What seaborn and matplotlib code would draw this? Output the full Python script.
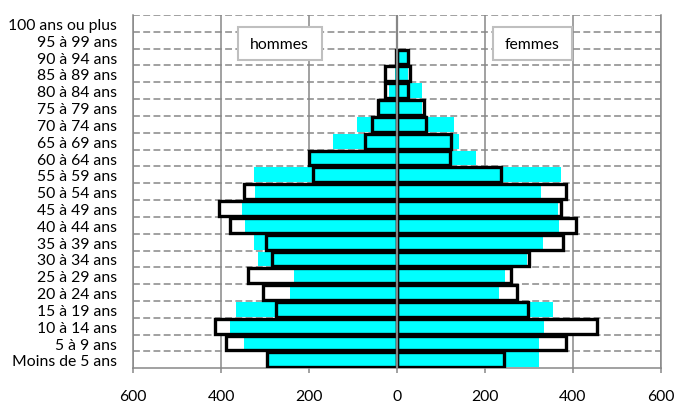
import numpy as np
import pandas as pd
import matplotlib
matplotlib.use("Agg")
import matplotlib.pyplot as plt
import seaborn as sns
from matplotlib.patches import Rectangle

# ---------------- data ----------------
ages = ["100 ans ou plus", "95 à 99 ans", "90 à 94 ans", "85 à 89 ans",
        "80 à 84 ans", "75 à 79 ans", "70 à 74 ans", "65 à 69 ans",
        "60 à 64 ans", "55 à 59 ans", "50 à 54 ans", "45 à 49 ans",
        "40 à 44 ans", "35 à 39 ans", "30 à 34 ans", "25 à 29 ans",
        "20 à 24 ans", "15 à 19 ans", "10 à 14 ans", "5 à 9 ans",
        "Moins de 5 ans"]

# outlined (white + black border) series
men_outline = [0, 0, 2, 28, 27, 43, 56, 72, 201, 192, 349, 404, 381, 298,
               284, 339, 305, 275, 413, 389, 296]
women_outline = [0, 0, 24, 30, 24, 61, 67, 123, 121, 237, 384, 373, 408,
                 377, 300, 259, 273, 298, 456, 384, 243]

# cyan filled series
men_fill = [0, 0, 1, 5, 19, 45, 90, 146, 195, 325, 322, 353, 345, 325,
            317, 235, 243, 366, 379, 349, 292]
women_fill = [0, 0, 22, 24, 57, 56, 129, 142, 180, 373, 328, 366, 369,
              332, 296, 246, 233, 356, 335, 324, 324]

x_ticks = [-600, -400, -200, 0, 200, 400, 600]
x_tick_labels = ["600", "400", "200", "0", "200", "400", "600"]
label_men = "hommes"
label_women = "femmes"

# ---------------- style ----------------
sns.set_theme(style="white")
plt.rcParams['font.family'] = ['Lato', 'DejaVu Sans']

GREY = "#878787"
CYAN = "#00FFFF"
BOX_EDGE = "#BFBFBF"
BAR_W = 0.88
FS = 11.3

W, H = 676, 406
fig = plt.figure(figsize=(W / 100, H / 100), dpi=100)
left, right, top, bottom = 133.3, 660.7, 16.0, 369.3
ax = fig.add_axes([left / W, 1 - bottom / H, (right - left) / W, (bottom - top) / H])

df = pd.DataFrame({
    "age": ages,
    "men_o": -np.array(men_outline, dtype=float),
    "women_o": np.array(women_outline, dtype=float),
    "men_f": -np.array(men_fill, dtype=float),
    "women_f": np.array(women_fill, dtype=float),
})


def bars(col, face, edge, lw, z):
    n0 = len(ax.patches)
    sns.barplot(data=df, x=col, y="age", order=ages, orient="h",
                color="white", width=BAR_W, errorbar=None, ax=ax)
    for p in ax.patches[n0:]:
        p.set_facecolor(face)
        p.set_edgecolor(edge)
        p.set_linewidth(lw)
        p.set_zorder(z)
        if p.get_width() == 0 or not np.isfinite(p.get_width()):
            p.set_visible(False)


# white background of the outlined bars
bars("men_o", "white", "none", 0, 2)
bars("women_o", "white", "none", 0, 2)
# cyan bars
bars("men_f", CYAN, "none", 0, 3)
bars("women_f", CYAN, "none", 0, 3)
# black outlines on top
bars("men_o", "none", "black", 2.4, 4)
bars("women_o", "none", "black", 2.4, 4)

ax.set_xlim(x_ticks[0], x_ticks[-1])
ax.set_ylim(len(ages) - 0.5, -0.5)
ax.set_xlabel("")
ax.set_ylabel("")

# grid
ax.set_axisbelow(True)
ax.set_xticks(x_ticks, x_tick_labels)
ax.set_yticks(np.arange(len(ages)) - 0.5, minor=True)
ax.grid(True, which="major", axis="x", color=GREY, lw=1.1, ls="-")
ax.grid(True, which="minor", axis="y", color=GREY, lw=1.1, ls=(0, (4.5, 2.2)))
ax.grid(False, which="major", axis="y")

# centre axis
ax.axvline(0, color=GREY, lw=1.6, zorder=6)

# spines
for s in ["left", "right", "bottom"]:
    ax.spines[s].set_color(GREY)
    ax.spines[s].set_linewidth(1.1)
ax.spines["top"].set_visible(False)

ax.tick_params(axis="x", which="major", length=3.6, width=1.1, color=GREY,
               labelsize=FS, labelcolor="black", pad=11, direction="out",
               bottom=True)
ax.tick_params(axis="y", which="both", length=0, labelsize=FS,
               labelcolor="black", pad=11.7)

# label boxes
for (x0, w, txt) in [(0.198, 0.159, label_men), (0.6826, 0.1487, label_women)]:
    ax.add_patch(Rectangle((x0, 0.873), w, 0.0926, transform=ax.transAxes,
                           facecolor="white", edgecolor=BOX_EDGE, lw=1.5,
                           zorder=7, clip_on=False))
    ax.text(x0 + w / 2, 0.873 + 0.0926 / 2, txt, transform=ax.transAxes,
            ha="center", va="center", fontsize=FS, color="black", zorder=8)

fig.savefig("out.png", dpi=100)
